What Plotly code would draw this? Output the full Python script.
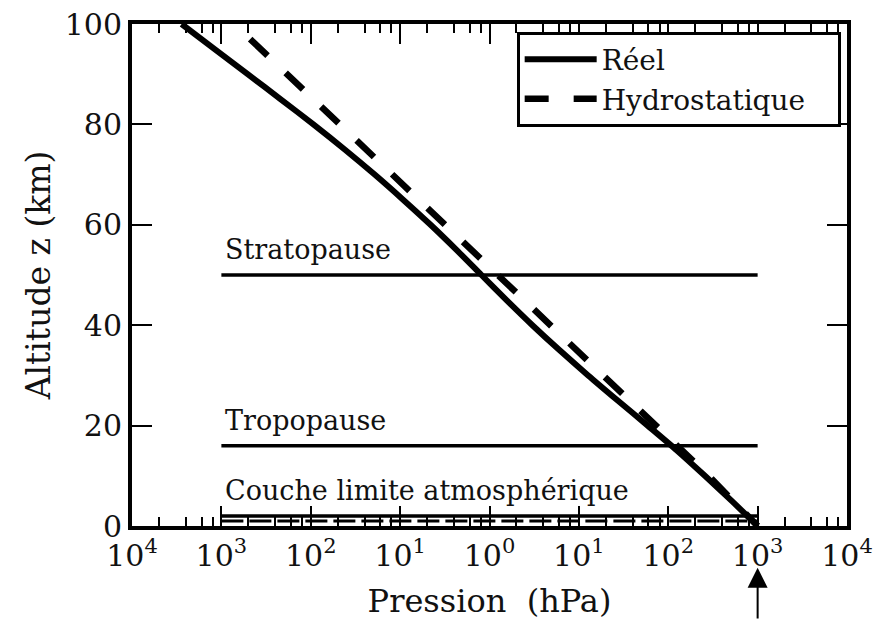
import plotly.graph_objects as go

# ---------------- data ----------------
altitude_km = [0, 5, 10, 15, 20, 25, 30, 35, 40, 45, 50,
               55, 60, 65, 70, 75, 80, 85, 90, 95, 100]
pression_reelle_hpa = [1000, 513, 257, 126, 58.9, 27.2, 12.7, 6.10, 3.02, 1.55, 0.813,
                       0.427, 0.219, 0.108, 0.0519, 0.0240, 0.0107, 0.00462, 0.00197,
                       0.00084, 0.000359]

altitude_hydro_km = [97, 90, 80, 70, 60, 50, 40, 30, 20, 10, 0]
pression_hydro_hpa = [0.0021, 0.0054, 0.021, 0.082, 0.32, 1.24, 4.8, 18.7, 73, 283, 1000]

couche_noms = ["Stratopause", "Tropopause", "Couche limite atmosphérique"]
couche_altitudes_km = [50, 16, 2]
couche_etendue_hpa = [1e-3, 1e3]
couche_limite_hachure_km = 1

tick_vals_x = [1e-4, 1e-3, 1e-2, 1e-1, 1e0, 1e1, 1e2, 1e3, 1e4]
tick_text_x = ["10<sup>4</sup>", "10<sup>3</sup>", "10<sup>2</sup>", "10<sup>1</sup>",
               "10<sup>0</sup>", "10<sup>1</sup>", "10<sup>2</sup>", "10<sup>3</sup>",
               "10<sup>4</sup>"]
tick_vals_y = [0, 20, 40, 60, 80, 100]
fleche_log_pression = 3  # arrow under 10^3 hPa (log10 units for the log axis)

# ---------------- figure ----------------
FONT = "DejaVu Serif, serif"
INK = "#111111"

fig = go.Figure()

fig.add_trace(go.Scatter(
    x=pression_reelle_hpa, y=altitude_km, mode="lines", name="Réel",
    line=dict(color="black", width=6, shape="spline", smoothing=0.8)))
fig.add_trace(go.Scatter(
    x=pression_hydro_hpa, y=altitude_hydro_km, mode="lines",
    name="Hydrostatique&nbsp;&nbsp;&nbsp;",
    line=dict(color="black", width=6.5, dash="24px,25px")))

for nom, z in zip(couche_noms, couche_altitudes_km):
    fig.add_trace(go.Scatter(
        x=couche_etendue_hpa, y=[z, z], mode="lines", showlegend=False,
        line=dict(color="black", width=3.5), hoverinfo="skip"))
    fig.add_annotation(x=-2.985, y=z + 5, xref="x", yref="y", text=nom,
                       showarrow=False, xanchor="left", yanchor="middle",
                       font=dict(family=FONT, size=27, color=INK))

fig.add_trace(go.Scatter(
    x=couche_etendue_hpa, y=[couche_limite_hachure_km] * 2, mode="lines",
    showlegend=False, line=dict(color="black", width=3, dash="22px,6px"),
    hoverinfo="skip"))

fig.add_annotation(x=fleche_log_pression, y=-0.083, xref="x", yref="paper",
                   text="", showarrow=True, ax=0, ay=60, arrowhead=2,
                   arrowsize=2, arrowwidth=2, arrowcolor="black", standoff=0)

# y-axis title placed as a rotated annotation for exact position
fig.add_annotation(x=-0.131, y=0.5, xref="paper", yref="paper",
                   text="Altitude z (km)", textangle=-90, showarrow=False,
                   xanchor="center", yanchor="middle",
                   font=dict(family=FONT, size=33, color=INK))

minor_vals = [k * 10.0 ** n for n in range(-4, 4) for k in (2, 4, 6, 8)]

fig.update_xaxes(
    type="log", range=[-4, 4], tickvals=tick_vals_x, ticktext=tick_text_x,
    ticks="inside", ticklen=20, tickwidth=2, tickcolor="black",
    showline=True, linewidth=4, linecolor="black", mirror="ticks",
    showgrid=False, zeroline=False, automargin=False, ticklabeloverflow="allow",
    minor=dict(tickvals=minor_vals, ticks="inside", ticklen=9, tickwidth=2,
               tickcolor="black", showgrid=False),
    tickfont=dict(family=FONT, size=30, color=INK),
    title=dict(text="Pression&nbsp; (hPa)", font=dict(family=FONT, size=32, color=INK),
               standoff=22),
)
fig.update_yaxes(
    range=[0, 100], tickvals=tick_vals_y, ticks="inside", ticklen=20, tickwidth=2,
    tickcolor="black", showline=True, linewidth=4, linecolor="black", mirror="ticks",
    showgrid=False, zeroline=False, automargin=False, ticklabeloverflow="allow",
    tickfont=dict(family=FONT, size=30, color=INK),
)

# page body adds an 8 px offset: margins are shifted by -8 px
fig.update_layout(
    width=872, height=612,
    margin=dict(l=124, r=33, t=16, b=94),
    paper_bgcolor="white", plot_bgcolor="white",
    legend=dict(x=0.538, y=0.985, xanchor="left", yanchor="top",
                bordercolor="black", borderwidth=3, bgcolor="white",
                font=dict(family=FONT, size=28, color=INK),
                itemwidth=72, tracegroupgap=0),
)

fig.write_html("out.html")
